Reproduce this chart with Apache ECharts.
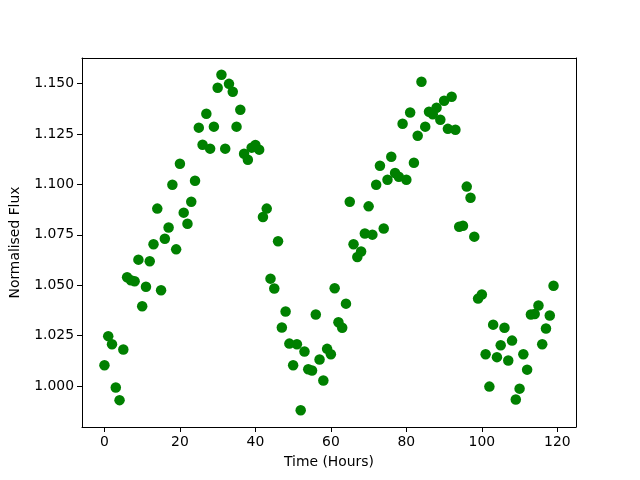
<!DOCTYPE html>
<html><head><meta charset="utf-8">
<script src="https://cdn.jsdelivr.net/npm/echarts@6/dist/echarts.min.js"></script>
<style>html,body{margin:0;padding:0;background:#fff}#c{width:640px;height:480px}</style>
</head><body><div id="c"></div>
<script>
const hours = Array.from({length:120},(_,i)=>i);
const flux = [
1.0104,1.0248,1.0208,0.9994,0.9931,1.0182,1.0540,1.0525,1.0520,1.0627,
1.0396,1.0493,1.0619,1.0703,1.0880,1.0475,1.0731,1.0786,1.0998,1.0678,
1.1102,1.0860,1.0805,1.0914,1.1018,1.1281,1.1196,1.1350,1.1177,1.1286,
1.1479,1.1543,1.1177,1.1498,1.1459,1.1286,1.1370,1.1152,1.1122,1.1182,
1.1195,1.1172,1.0838,1.0880,1.0533,1.0484,1.0718,1.0291,1.0370,1.0211,
1.0104,1.0208,0.9881,1.0172,1.0084,1.0078,1.0355,1.0132,1.0028,1.0185,
1.0158,1.0485,1.0317,1.0290,1.0409,1.0914,1.0703,1.0640,1.0667,1.0757,
1.0891,1.0751,1.0998,1.1092,1.0781,1.1023,1.1137,1.1056,1.1038,1.1300,
1.1023,1.1356,1.1107,1.1241,1.1508,1.1286,1.1360,1.1347,1.1380,1.1320,
1.1414,1.1275,1.1434,1.1271,1.0790,1.0795,1.0989,1.0934,1.0741,1.0434,
1.0454,1.0158,0.9998,1.0305,1.0144,1.0203,1.0290,1.0127,1.0226,0.9934,
0.9988,1.0158,1.0082,1.0355,1.0358,1.0400,1.0208,1.0286,1.0350,1.0498
];
const xTicks = [0,20,40,60,80,100,120];
const yTicks = [1.000,1.025,1.050,1.075,1.100,1.125,1.150];

const xmin = -5.95, xmax = 124.95;
const dmin = Math.min(...flux), dmax = Math.max(...flux);
const pad = (dmax-dmin)*0.05;
const ymin = dmin-pad, ymax = dmax+pad;
const font = 'DejaVu Sans';
const fs = 13.9;
const frameAxis = {show:true,axisLine:{show:true,onZero:false,lineStyle:{color:'#000',width:1}},
  axisTick:{show:false},axisLabel:{show:false},splitLine:{show:false}};
const chart = echarts.init(document.getElementById('c'), null, {renderer:'canvas'});
chart.setOption({
  animation:false,
  backgroundColor:'#fff',
  grid:{left:80,right:64,top:58,bottom:53,show:false},
  xAxis:[{type:'value',min:xmin,max:xmax,position:'bottom',
    name:'Time (Hours)',nameLocation:'middle',nameGap:28,
    nameTextStyle:{fontFamily:font,fontSize:fs,color:'#000'},
    axisLine:{show:true,onZero:false,lineStyle:{color:'#000',width:1}},
    axisTick:{show:true,length:5,lineStyle:{color:'#000'},customValues:xTicks},
    axisLabel:{fontFamily:font,fontSize:fs,color:'#000',margin:8,customValues:xTicks},
    splitLine:{show:false}},
    Object.assign({type:'value',min:xmin,max:xmax,position:'top'},frameAxis)],
  yAxis:[{type:'value',min:ymin,max:ymax,position:'left',
    name:'Normalised Flux',nameLocation:'middle',nameGap:60,
    nameTextStyle:{fontFamily:font,fontSize:fs,color:'#000'},
    axisLine:{show:true,onZero:false,lineStyle:{color:'#000',width:1}},
    axisTick:{show:true,length:5,lineStyle:{color:'#000'},customValues:yTicks},
    axisLabel:{fontFamily:font,fontSize:fs,color:'#000',margin:8,customValues:yTicks,formatter:v=>v.toFixed(3)},
    splitLine:{show:false}},
    Object.assign({type:'value',min:ymin,max:ymax,position:'right'},frameAxis)],
  series:[{type:'scatter',xAxisIndex:0,yAxisIndex:0,data:hours.map((h,i)=>[h,flux[i]]),symbol:'circle',symbolSize:10.5,
    itemStyle:{color:'#008000',opacity:1}}]
});
</script></body></html>
